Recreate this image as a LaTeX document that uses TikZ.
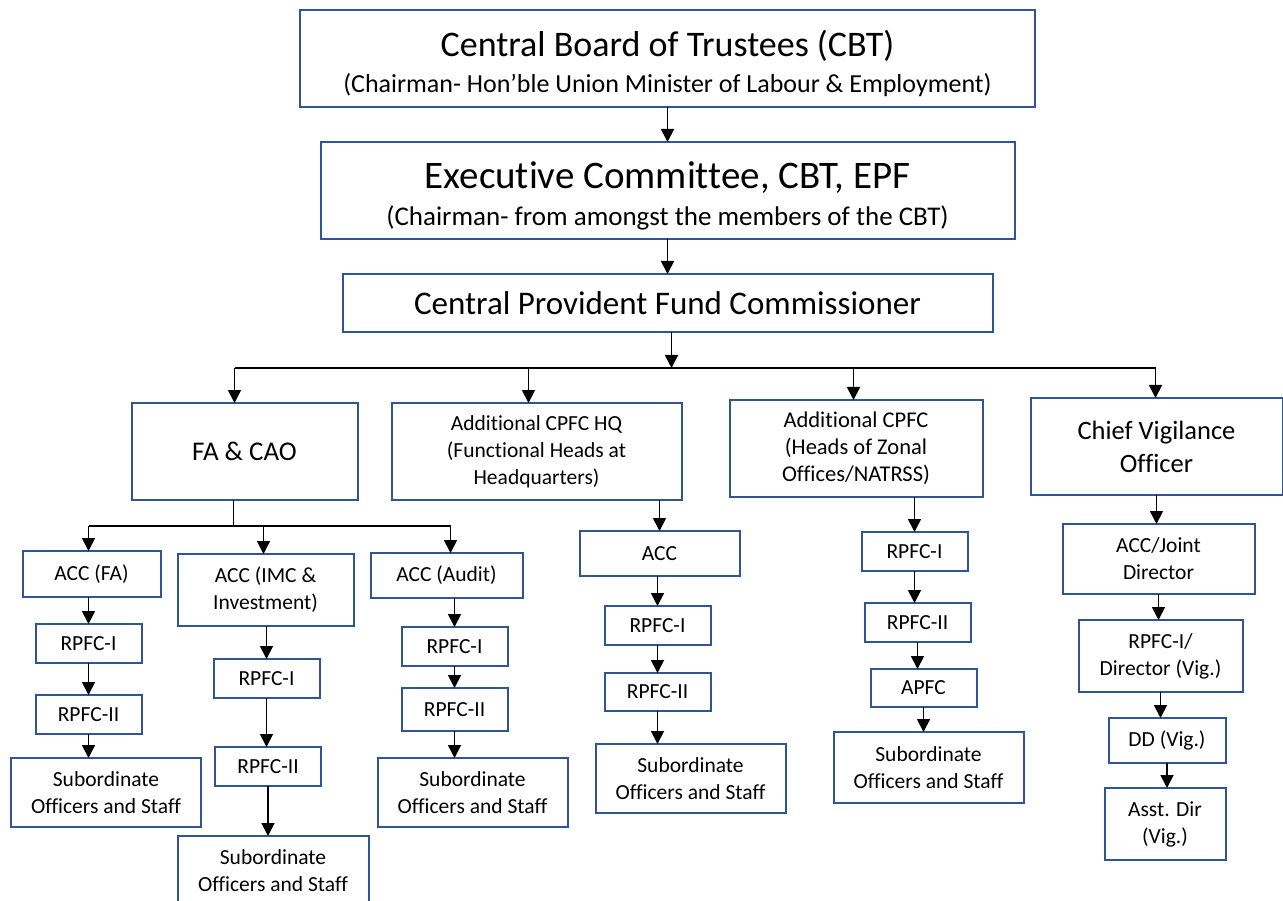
\documentclass[tikz,border=0pt]{standalone}
\usepackage{fontspec}
\setmainfont[Ligatures={NoCommon}]{Carlito}
\usepackage{tikz}
\usetikzlibrary{arrows.meta,positioning}
\definecolor{boxblue}{RGB}{47, 85, 151}
\tikzstyle{box} = [rectangle, draw=boxblue, line width=2pt, fill=white, text=black, align=center, inner sep=0pt, outer sep=0pt, font=\fontsize{21.5}{27}\selectfont]
\tikzstyle{head} = [box, minimum height=97pt, font=\fontsize{21.5}{27}\selectfont]
\tikzstyle{rpfc} = [box, minimum width=106pt, minimum height=39pt]
\tikzstyle{staff} = [box, minimum width=190pt, minimum height=69pt]
\tikzstyle{tedge} = [draw, line width=1.8pt, -{Triangle[length=13pt,width=13pt]}]
\tikzstyle{busline} = [draw, line width=1.2pt]

\begin{document}
\begin{tikzpicture}
\useasboundingbox (0pt,0pt) rectangle (1283pt,-901pt);

% board and commissioner =============================
\node[box, minimum width=735pt, minimum height=97pt, font=\fontsize{26}{36}\selectfont] (cbt) at (667.5pt,-58.5pt) {{\fontsize{36}{36}\selectfont\rule{0pt}{36pt}Central Board of Trustees (CBT)}\\(Chairman- Hon’ble Union Minister of Labour \& Employment)};
\node[box, below=35pt of cbt, minimum width=694pt, minimum height=97pt, font=\fontsize{27}{37}\selectfont] (exec) {{\fontsize{39}{37}\selectfont\rule{0pt}{38pt}Executive Committee, CBT, EPF}\\(Chairman- from amongst the members of the CBT)};
\node[box, below=35pt of exec, minimum width=650pt, minimum height=58pt, font=\fontsize{33}{36}\selectfont] (cpfc) {Central Provident Fund Commissioner};
\coordinate[below=36pt of cpfc, xshift=4pt] (bus);

% heads
\node[head, below=71pt of cpfc, xshift=-423pt, minimum width=226pt, font=\fontsize{27}{30}\selectfont] (fa) {FA \& CAO};
\node[head, below=71pt of cpfc, xshift=-131pt, minimum width=290pt] (hq) {Additional CPFC HQ\\(Functional Heads at\\Headquarters)};
\node[head, below=68pt of cpfc, xshift=188.5pt, minimum width=253pt, font=\fontsize{22.5}{27}\selectfont] (zone) {Additional CPFC\\(Heads of Zonal\\Offices/NATRSS)};
\node[head, below=66pt of cpfc, xshift=489pt, minimum width=252pt, font=\fontsize{26.5}{33}\selectfont] (cvo) {Chief Vigilance\\Officer};
\coordinate (fain) at ([xshift=-10pt]fa.north);
\coordinate (hqin) at ([xshift=-8pt]hq.north);
\coordinate (zonein) at ([xshift=-2.5pt]zone.north);
\coordinate (cvoin) at ([xshift=-1pt]cvo.north);

% FA & CAO branch
\coordinate (fajoin) at ([xshift=-11pt, yshift=-26pt]fa.south);
\node[box, below=51pt of fa, xshift=-153pt, minimum width=138pt, minimum height=46pt] (accfa) {ACC (FA)};
\node[rpfc, below=27pt of accfa, xshift=-3pt] (rpfa1) {RPFC-I};
\node[rpfc, below=32pt of rpfa1] (rpfa2) {RPFC-II};
\node[staff, below=24pt of rpfa2, xshift=17.5pt] (subfa) {Subordinate\\Officers and Staff};

\node[box, below=54pt of fa, xshift=21pt, minimum width=176pt, minimum height=72pt] (accimc) {ACC (IMC \&\\Investment)};
\node[rpfc, below=33pt of accimc, xshift=1pt] (rpimc1) {RPFC-I};
\node[rpfc, below=49pt of rpimc1, xshift=1.5pt] (rpimc2) {RPFC-II};
\node[staff, below=50pt of rpimc2, xshift=5pt, minimum width=191pt] (subimc) {Subordinate\\Officers and Staff};

\node[box, below=53pt of fa, xshift=202pt, minimum width=152pt, minimum height=45pt] (accaud) {ACC (Audit)};
\node[rpfc, below=29pt of accaud, xshift=8pt] (rpaud1) {RPFC-I};
\node[rpfc, below=22pt of rpaud1, minimum height=43pt] (rpaud2) {RPFC-II};
\node[staff, below=27pt of rpaud2, xshift=18pt] (subaud) {Subordinate\\Officers and Staff};
\coordinate (accfain) at ([xshift=-3pt]accfa.north);
\coordinate (accimcin) at ([xshift=-2pt]accimc.north);
\coordinate (accaudin) at ([xshift=4pt]accaud.north);

% HQ branch
\node[box, below=31pt of hq, xshift=123pt, minimum width=160pt, minimum height=45pt] (acchq) {ACC};
\node[rpfc, below=30pt of acchq, xshift=-2pt] (rphq1) {RPFC-I};
\node[rpfc, below=28pt of rphq1, minimum height=38pt] (rphq2) {RPFC-II};
\node[staff, below=33pt of rphq2, xshift=33pt] (subhq) {Subordinate\\Officers and Staff};

% zonal branch
\node[rpfc, below=35pt of zone, xshift=58.5pt] (rpz1) {RPFC-I};
\node[rpfc, below=32pt of rpz1, xshift=3pt] (rpz2) {RPFC-II};
\node[rpfc, below=27pt of rpz2, xshift=6pt, minimum height=38pt] (apfc) {APFC};
\node[staff, below=25pt of apfc, xshift=5pt, minimum height=71pt] (subz) {Subordinate\\Officers and Staff};

% vigilance branch
\node[box, below=29pt of cvo, xshift=2pt, minimum width=192pt, minimum height=70pt] (accv) {ACC/Joint\\Director};
\node[box, below=26pt of accv, xshift=2pt, minimum width=164pt, minimum height=72pt] (rpv) {RPFC-I/\\Director (Vig.)};
\node[box, below=26pt of rpv, xshift=6.5pt, minimum width=117pt, minimum height=45pt] (ddv) {DD (Vig.)};
\node[box, below=25pt of ddv, xshift=-2pt, minimum width=121pt, minimum height=72pt] (asstv) {Asst. Dir\\(Vig.)};

%edges
\path[tedge] (cbt.south) -- (exec.north);
\path[tedge] (exec.south) -- (cpfc.north);
\path[tedge] (cpfc.south -| bus) -- (bus);
\path[busline] (fain |- bus) -- (cvoin |- bus);
\path[tedge] (fain |- bus) -- (fain);
\path[tedge] (hqin |- bus) -- (hqin);
\path[tedge] (zonein |- bus) -- (zonein);
\path[tedge] (cvoin |- bus) -- (cvoin);

\path[busline] (fa.south -| fajoin) -- (fajoin);
\path[busline] (accfain |- fajoin) -- (accaudin |- fajoin);
\path[tedge] (accfain |- fajoin) -- (accfain);
\path[tedge] (accimcin |- fajoin) -- (accimcin);
\path[tedge] (accaudin |- fajoin) -- (accaudin);

\path[tedge] (accfa.south -| rpfa1) -- (rpfa1.north);
\path[tedge] (rpfa1.south) -- (rpfa2.north);
\path[tedge] (rpfa2.south) -- (rpfa2.south |- subfa.north);
\path[tedge] (accimc.south -| rpimc1) -- (rpimc1.north);
\path[tedge] (rpimc1.south) -- (rpimc1.south |- rpimc2.north);
\path[tedge] (rpimc2.south) -- (rpimc2.south |- subimc.north);
\path[tedge] (accaud.south -| rpaud1) -- (rpaud1.north);
\path[tedge] (rpaud1.south) -- (rpaud2.north);
\path[tedge] (rpaud2.south) -- (rpaud2.south |- subaud.north);

\path[tedge] (hq.south -| acchq) -- (acchq.north);
\path[tedge] (acchq.south -| rphq1) -- (rphq1.north);
\path[tedge] (rphq1.south) -- (rphq2.north);
\path[tedge] (rphq2.south) -- (rphq2.south |- subhq.north);

\path[tedge] (zone.south -| rpz1) -- (rpz1.north);
\path[tedge] (rpz1.south) -- (rpz1.south |- rpz2.north);
\path[tedge] (rpz2.south) -- (rpz2.south |- apfc.north);
\path[tedge] (apfc.south) -- (apfc.south |- subz.north);

\path[tedge] (cvo.south) -- (cvo.south |- accv.north);
\path[tedge] (accv.south) -- (accv.south |- rpv.north);
\path[tedge] (rpv.south) -- (rpv.south |- ddv.north);
\path[tedge] (ddv.south) -- (ddv.south |- asstv.north);

\end{tikzpicture}
\end{document}
